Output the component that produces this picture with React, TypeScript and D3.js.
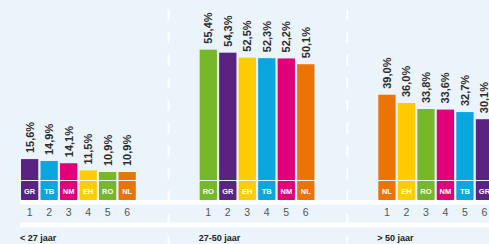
import React from "react";
import * as d3 from "d3";

const groups = ["< 27 jaar", "27-50 jaar", "> 50 jaar"];
const g1Cats = ["GR", "TB", "NM", "EH", "RO", "NL"];
const g1Vals = [15.6, 14.9, 14.1, 11.5, 10.9, 10.9];
const g2Cats = ["RO", "GR", "EH", "TB", "NM", "NL"];
const g2Vals = [55.4, 54.3, 52.5, 52.3, 52.2, 50.1];
const g3Cats = ["NL", "EH", "RO", "NM", "TB", "GR"];
const g3Vals = [39.0, 36.0, 33.8, 33.6, 32.7, 30.1];
const ranks = ["1", "2", "3", "4", "5", "6"];

const partyColors: Record<string, string> = {
  GR: "#5a2381",
  TB: "#0aa6de",
  NM: "#e2007a",
  EH: "#ffcc00",
  RO: "#76b82a",
  NL: "#ec7404",
};

const W = 489;
const H = 244;

export default function App() {
  const groupData = [
    { name: groups[0], cats: g1Cats, vals: g1Vals },
    { name: groups[1], cats: g2Cats, vals: g2Vals },
    { name: groups[2], cats: g3Cats, vals: g3Vals },
  ];
  const gx = d3.scaleBand<string>().domain(groups).range([21, 21 + 3 * 178.65]).paddingInner(0);
  const inner = d3.scaleBand<string>().domain(ranks).range([0, 5 * 19.5 + 17.3]).paddingInner(0.113);
  const y = d3.scaleLinear().domain([0, 60]).range([202, 202 - 60 * 2.75]);
  const fmt = (v: number) => d3.format(".1f")(v).replace(".", ",") + "%";
  const bw = inner.bandwidth();
  const barBottom = 180;
  const boxTop = 181;
  const boxBottom = 200;

  return (
    <svg width={W} height={H} style={{ position: "absolute", left: 0, top: 0 }}>
      <rect x={0} y={0} width={W} height={H} fill="#ebf4fb" />
      <rect x={20} y={200} width={W - 20} height={4.5} fill="#ffffff" />
      <rect x={20} y={222.5} width={W - 20} height={5} fill="#ffffff" />
      {groups.slice(1).map((g) => (
        <line
          key={g}
          x1={(gx(g) as number) - 31}
          x2={(gx(g) as number) - 31}
          y1={9.3}
          y2={H}
          stroke="#ffffff"
          strokeWidth={2}
          strokeDasharray="11 11.7"
        />
      ))}
      {groupData.map((g) => {
        const x0 = gx(g.name) as number;
        return (
          <g key={g.name} transform={`translate(${x0},0)`}>
            {g.vals.map((v, i) => {
              const r = ranks[i];
              const bx = inner(r) as number;
              const c = g.cats[i];
              const top = y(v);
              const cx = bx + bw / 2;
              return (
                <g key={r}>
                  <rect x={bx} y={top} width={bw} height={barBottom - top} fill={partyColors[c]} />
                  <rect x={bx} y={boxTop} width={bw} height={boxBottom - boxTop} fill={partyColors[c]} rx={0.8} />
                  <text
                    x={cx}
                    y={194}
                    textAnchor="middle"
                    fill="#ffffff"
                    fontFamily="Liberation Sans, Arial, sans-serif"
                    fontWeight="bold"
                    fontSize={7.5}
                  >
                    {c}
                  </text>
                  <text
                    transform={`translate(${cx + 3.9},${top - 6}) rotate(-90)`}
                    fill="#2b2b2b"
                    fontFamily="Liberation Sans, Arial, sans-serif"
                    fontWeight="bold"
                    fontSize={11}
                  >
                    {fmt(v)}
                  </text>
                  <text
                    x={cx}
                    y={216}
                    textAnchor="middle"
                    fill="#555555"
                    fontFamily="Liberation Sans, Arial, sans-serif"
                    fontSize={10.5}
                  >
                    {r}
                  </text>
                </g>
              );
            })}
            <text
              x={-1}
              y={241}
              fill="#222222"
              fontFamily="Liberation Sans Narrow, Liberation Sans, Arial, sans-serif"
              fontWeight="bold"
              fontSize={9}
            >
              {g.name}
            </text>
          </g>
        );
      })}
    </svg>
  );
}
